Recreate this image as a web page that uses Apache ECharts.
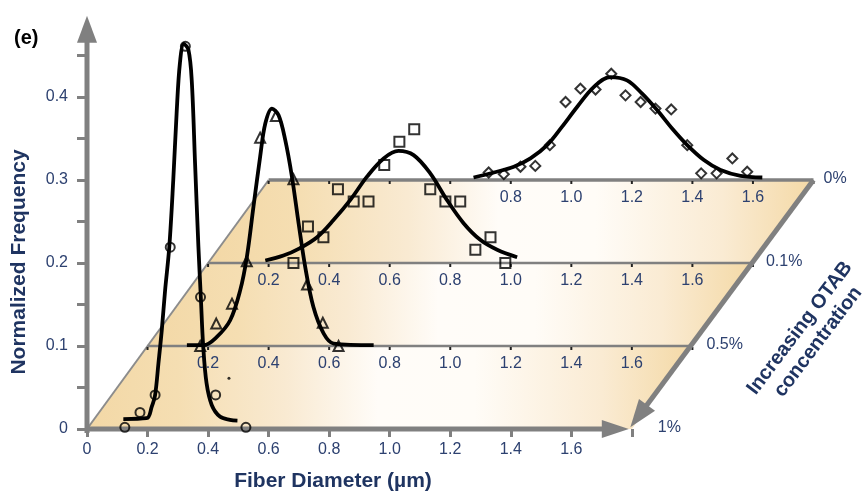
<!DOCTYPE html>
<html>
<head>
<meta charset="utf-8">
<script src="https://cdn.jsdelivr.net/npm/echarts@6/dist/echarts.min.js"></script>
<style>
  html, body { margin: 0; padding: 0; background: #fff; }
  #chart { width: 866px; height: 492px; }
</style>
</head>
<body>
<div id="chart"></div>
<script>
// layers, front to back
const concLabels = ["1%", "0.5%", "0.1%", "0%"];
const layerShiftX = [0, 0.2, 0.4, 0.6];
const layerBaseY = [0, 0.1, 0.2, 0.3];
const floorLength = 1.8;

const layerTicks = [0, 0.2, 0.4, 0.6, 0.8, 1.0, 1.2, 1.4, 1.6, 1.8];
const baseTickLabels = [0, 0.2, 0.4, 0.6, 0.8, 1.0, 1.2, 1.4, 1.6];
const layerTickLabels = [
  [],
  [0.2, 0.4, 0.6, 0.8, 1.0, 1.2, 1.4, 1.6],
  [0.2, 0.4, 0.6, 0.8, 1.0, 1.2, 1.4, 1.6],
  [0.8, 1.0, 1.2, 1.4, 1.6]
];
const yTickLabels = [0, 0.1, 0.2, 0.3, 0.4];
const yTicks = [0, 0.05, 0.1, 0.15, 0.2, 0.25, 0.3, 0.35, 0.4, 0.45];

// 1% OTAB (circles) - diameter, frequency
const c1X = [0.125, 0.175, 0.225, 0.275, 0.325, 0.375, 0.425, 0.525];
const c1Y = [0.002, 0.020, 0.041, 0.219, 0.461, 0.159, 0.041, 0.002];
const c1StrayX = [0.469];
const c1StrayY = [0.061];
const fit1X = [0.120, 0.197, 0.214, 0.225, 0.236, 0.247, 0.258, 0.272, 0.285, 0.296, 0.307, 0.320,
  0.335, 0.346, 0.357, 0.368, 0.376, 0.384, 0.395, 0.412, 0.439, 0.472, 0.497];
const fit1Y = [0.012, 0.013, 0.027, 0.041, 0.079, 0.119, 0.167, 0.220, 0.300, 0.380, 0.441, 0.464,
  0.457, 0.420, 0.320, 0.220, 0.159, 0.099, 0.055, 0.029, 0.015, 0.011, 0.010];

// 0.5% OTAB (triangles)
const c2X = [0.174, 0.227, 0.279, 0.328, 0.372, 0.424, 0.482, 0.527, 0.579, 0.631];
const c2Y = [0.000, 0.027, 0.051, 0.102, 0.251, 0.277, 0.201, 0.074, 0.028, 0.000];
const fit2X = [0.130, 0.185, 0.229, 0.273, 0.306, 0.328, 0.350, 0.372, 0.389, 0.411, 0.433,
  0.455, 0.477, 0.499, 0.521, 0.548, 0.582, 0.615, 0.747];
const fit2Y = [0.001, 0.001, 0.011, 0.031, 0.067, 0.107, 0.168, 0.228, 0.268, 0.286, 0.278,
  0.248, 0.204, 0.148, 0.095, 0.047, 0.015, 0.003, 0.001];

// 0.1% OTAB (squares)
const c3X = [0.282, 0.330, 0.381, 0.429, 0.481, 0.530, 0.582, 0.632, 0.681, 0.734, 0.784, 0.833,
  0.883, 0.933, 0.982];
const c3Y = [0.000, 0.044, 0.031, 0.089, 0.074, 0.074, 0.118, 0.146, 0.161, 0.089, 0.074, 0.074,
  0.016, 0.031, 0.000];
const fit3X = [0.189, 0.249, 0.304, 0.360, 0.415, 0.470, 0.525, 0.580, 0.629, 0.679, 0.734, 0.789,
  0.844, 0.899, 0.955, 1.021];
const fit3Y = [0.003, 0.009, 0.018, 0.031, 0.052, 0.076, 0.104, 0.126, 0.135, 0.130, 0.108, 0.076,
  0.048, 0.028, 0.016, 0.007];

// 0% OTAB (diamonds)
const c4X = [0.727, 0.777, 0.832, 0.881, 0.929, 0.981, 1.030, 1.080, 1.132, 1.179, 1.229, 1.278,
  1.330, 1.383, 1.429, 1.480, 1.532, 1.581];
const c4Y = [0.009, 0.007, 0.016, 0.017, 0.042, 0.094, 0.110, 0.109, 0.128, 0.102, 0.094, 0.086,
  0.085, 0.042, 0.008, 0.008, 0.026, 0.010];
const fit4X = [0.677, 0.744, 0.810, 0.865, 0.920, 0.969, 1.019, 1.074, 1.129, 1.184, 1.234, 1.284,
  1.333, 1.383, 1.438, 1.493, 1.559, 1.631];
const fit4Y = [0.003, 0.009, 0.016, 0.026, 0.042, 0.064, 0.088, 0.112, 0.124, 0.120, 0.104, 0.084,
  0.062, 0.042, 0.024, 0.012, 0.005, 0.003];

const navy = "#2d4170";
const titleNavy = "#1f3461";
const gray = "#808080";
const font = '"Liberation Sans", Arial, sans-serif';

// shift a layer's points onto the slanted floor
function place(xs, ys, layer) {
  return xs.map((x, i) => [x + layerShiftX[layer], ys[i] + layerBaseY[layer]]);
}

function fmt(v) {
  return v === 0 ? "0" : v.toFixed(1);
}

function arrow(from, to, width, headLen, headHalf, color) {
  const dx = to[0] - from[0], dy = to[1] - from[1];
  const L = Math.hypot(dx, dy);
  const ux = dx / L, uy = dy / L;
  const bx = to[0] - ux * headLen, by = to[1] - uy * headLen;
  return [
    { type: "line", shape: { x1: from[0], y1: from[1], x2: bx + ux * 2, y2: by + uy * 2 },
      style: { stroke: color, lineWidth: width } },
    { type: "polygon", shape: { points: [to, [bx - uy * headHalf, by + ux * headHalf], [bx + uy * headHalf, by - ux * headHalf]] },
      style: { fill: color } }
  ];
}

const floorStops = [
  { offset: 0, color: "#f3d8a6" },
  { offset: 0.15, color: "#f5deb2" },
  { offset: 0.33, color: "#f9ead2" },
  { offset: 0.48, color: "#fffcf8" },
  { offset: 0.64, color: "#fffcf7" },
  { offset: 0.85, color: "#faebd3" },
  { offset: 1, color: "#f4d9a6" }
];

function renderFloor(params, api) {
  const P = (x, y) => api.coord([x, y]);
  const kids = [];
  // floor bands
  for (let i = 0; i < 3; i++) {
    const pts = [
      P(layerShiftX[i], layerBaseY[i]),
      P(layerShiftX[i] + floorLength, layerBaseY[i]),
      P(layerShiftX[i + 1] + floorLength, layerBaseY[i + 1]),
      P(layerShiftX[i + 1], layerBaseY[i + 1])
    ];
    kids.push({ type: "polygon", shape: { points: pts },
      style: { fill: new echarts.graphic.LinearGradient(0, 0, 1, 0, floorStops) } });
  }
  // left edge
  const a = P(0, 0), b = P(layerShiftX[3], layerBaseY[3]);
  kids.push({ type: "line", shape: { x1: a[0], y1: a[1], x2: b[0], y2: b[1] },
    style: { stroke: "#8c8c8c", lineWidth: 2 } });
  // layer lines, ticks, labels
  for (let i = 1; i < 4; i++) {
    const s = P(layerShiftX[i], layerBaseY[i]);
    const e = P(layerShiftX[i] + floorLength, layerBaseY[i]);
    kids.push({ type: "line", shape: { x1: s[0], y1: s[1], x2: e[0], y2: e[1] },
      style: { stroke: gray, lineWidth: i === 3 ? 3.5 : 2.5 } });
    layerTicks.forEach(t => {
      const p = P(layerShiftX[i] + t, layerBaseY[i]);
      kids.push({ type: "line", shape: { x1: p[0], y1: p[1] + 1, x2: p[0], y2: p[1] + 4 },
        style: { stroke: "#222", lineWidth: 2 } });
    });
    layerTickLabels[i].forEach(t => {
      const p = P(layerShiftX[i] + t, layerBaseY[i]);
      kids.push({ type: "text", x: p[0], y: p[1] + 18,
        style: { text: fmt(t), fill: navy, font: "16px " + font, align: "center", verticalAlign: "middle" } });
    });
  }
  // axes
  const o = P(0, 0);
  kids.push(...arrow([o[0], o[1] + 4], P(0, 0.498), 5, 27, 10, gray));
  kids.push(...arrow([o[0] - 2, o[1]], P(1.79, 0), 5, 27, 9, gray));
  // right edge arrow (increasing concentration)
  kids.push(...arrow(P(layerShiftX[3] + floorLength, layerBaseY[3]), P(1.795, 0.002), 5, 28, 10, gray));
  // concentration labels
  const offs = [26, 14, 13, 10];
  for (let i = 0; i < 4; i++) {
    const p = P(layerShiftX[i] + floorLength, layerBaseY[i]);
    kids.push({ type: "text", x: p[0] + offs[i], y: p[1] - 1,
      style: { text: concLabels[i], fill: navy, font: "16px " + font, align: "left", verticalAlign: "middle" } });
  }
  return { type: "group", children: kids };
}

const chart = echarts.init(document.getElementById("chart"));

const lineStyle = { color: "#000", width: 3.8 };
const markerStyle = { color: "rgba(0,0,0,0)", borderColor: "#000", borderWidth: 2 };

function fitSeries(xs, ys, layer) {
  return {
    type: "line", data: place(xs, ys, layer), showSymbol: false, smooth: 0.35,
    lineStyle: lineStyle, z: 3, silent: true
  };
}
function markSeries(xs, ys, layer, symbol, size) {
  return {
    type: "scatter", data: place(xs, ys, layer), symbol: symbol, symbolSize: size,
    itemStyle: markerStyle, z: 4, silent: true
  };
}

chart.setOption({
  animation: false,
  grid: { left: 87, right: 22.25, top: 14, bottom: 63, containLabel: false, outerBoundsMode: "none" },
  xAxis: {
    type: "value", min: 0, max: 2.5,
    axisLine: { show: false },
    splitLine: { show: false },
    axisTick: { show: true, customValues: layerTicks, length: 8, lineStyle: { color: gray, width: 3 } },
    axisLabel: { customValues: baseTickLabels, formatter: fmt, color: navy, fontSize: 16, fontFamily: font, margin: 13 }
  },
  yAxis: {
    type: "value", min: 0, max: 0.5,
    axisLine: { show: false },
    splitLine: { show: false },
    axisTick: { show: true, customValues: yTicks, length: 10, lineStyle: { color: gray, width: 3 } },
    axisLabel: { customValues: yTickLabels, formatter: fmt, color: navy, fontSize: 16, fontFamily: font, margin: 19 }
  },
  graphic: [
    { type: "text", x: 14, y: 38, style: { text: "(e)", fill: "#000", font: "bold 20px " + font, verticalAlign: "middle" } },
    { type: "text", x: 19, y: 262, rotation: Math.PI / 2,
      style: { text: "Normalized Frequency", fill: titleNavy, font: "bold 21px " + font, align: "center", verticalAlign: "middle" } },
    { type: "text", x: 333, y: 481,
      style: { text: "Fiber Diameter (µm)", fill: titleNavy, font: "bold 21px " + font, align: "center", verticalAlign: "middle" } },
    { type: "text", x: 809, y: 335, rotation: 53 * Math.PI / 180,
      style: { text: "Increasing OTAB\nconcentration", fill: titleNavy, font: "bold 20px " + font,
        align: "center", verticalAlign: "middle", lineHeight: 23 } }
  ],
  series: [
    { type: "custom", renderItem: renderFloor, data: [[0, 0]], clip: false, silent: true, z: 1 },
    fitSeries(fit1X, fit1Y, 0),
    fitSeries(fit2X, fit2Y, 1),
    fitSeries(fit3X, fit3Y, 2),
    fitSeries(fit4X, fit4Y, 3),
    markSeries(c1X, c1Y, 0, "circle", 9),
    markSeries(c2X, c2Y, 1, "triangle", 10),
    markSeries(c3X, c3Y, 2, "rect", 10),
    markSeries(c4X, c4Y, 3, "diamond", 10),
    { type: "scatter", data: place(c1StrayX, c1StrayY, 0), symbol: "circle", symbolSize: 3,
      itemStyle: { color: "#000" }, z: 4, silent: true }
  ]
});
</script>
</body>
</html>
